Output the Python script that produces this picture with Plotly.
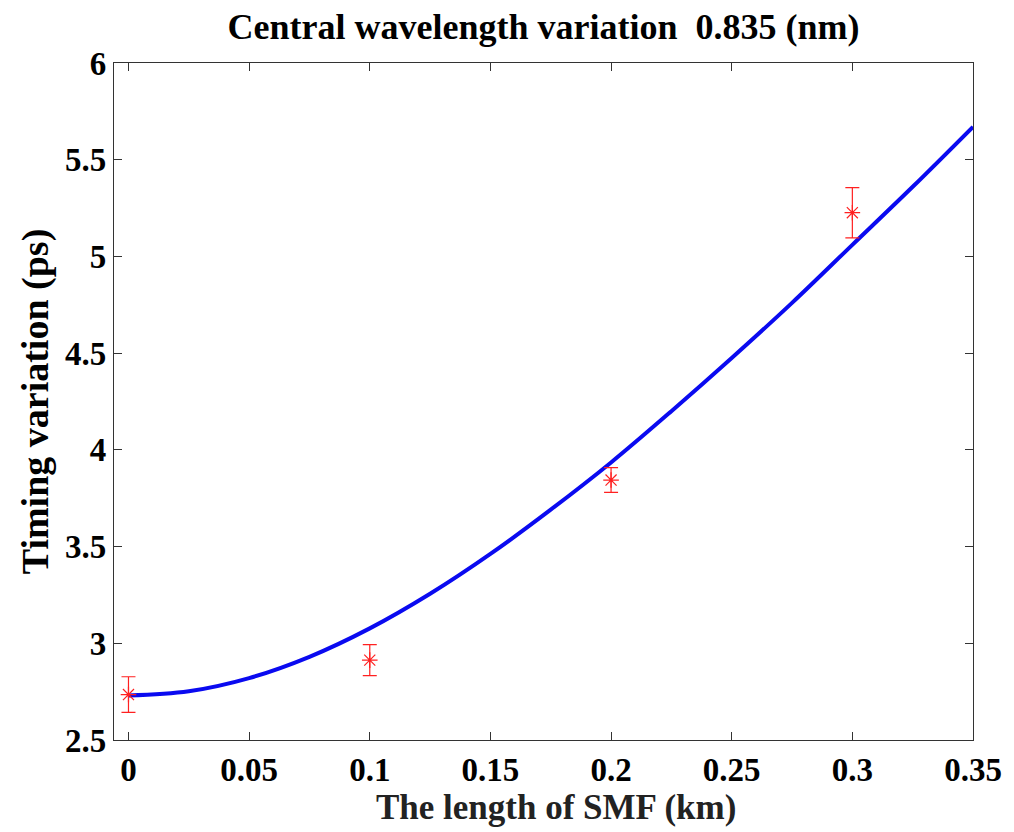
import plotly.graph_objects as go

# Fitted curve
curve_x = [0, 0.025, 0.05, 0.075, 0.1, 0.125, 0.15, 0.175, 0.2, 0.225, 0.25, 0.275, 0.3, 0.325, 0.35]
curve_y = [2.73, 2.752, 2.82, 2.93, 3.077, 3.256, 3.462, 3.691, 3.935, 4.20, 4.475, 4.76, 5.06, 5.36, 5.67]

# Measured points with error bars
meas_x = [0, 0.1, 0.2, 0.3]
meas_y = [2.735, 2.913, 3.844, 5.226]
meas_err = [0.092, 0.08, 0.064, 0.13]

xtick_vals = [0, 0.05, 0.1, 0.15, 0.2, 0.25, 0.3, 0.35]
xtick_text = ["0", "0.05", "0.1", "0.15", "0.2", "0.25", "0.3", "0.35"]
ytick_vals = [2.5, 3, 3.5, 4, 4.5, 5, 5.5, 6]
ytick_text = ["2.5", "3", "3.5", "4", "4.5", "5", "5.5", "6"]

FONT = "Liberation Serif"

fig = go.Figure()
fig.add_trace(go.Scatter(
    x=curve_x, y=curve_y, mode="lines",
    line=dict(color="#0a0af0", width=4, shape="spline"),
    showlegend=False, hoverinfo="skip"))
fig.add_trace(go.Scatter(
    x=meas_x, y=meas_y, mode="markers",
    marker=dict(symbol="asterisk-open", size=13, color="#ff2020",
                line=dict(color="#ff2020", width=1.2)),
    error_y=dict(type="data", array=meas_err, visible=True,
                 color="#ff2020", thickness=1.2, width=7),
    showlegend=False))

axis_common = dict(
    showgrid=False, zeroline=False, showline=True, linecolor="#333333",
    linewidth=1.2, mirror="ticks", ticks="inside", ticklen=8,
    tickcolor="#333333", tickwidth=1,
    tickfont=dict(family=FONT, size=33, color="black"),
)

fig.update_layout(
    width=1006, height=824,
    paper_bgcolor="white", plot_bgcolor="white",
    margin=dict(l=106, r=41, t=55, b=92),
    title=dict(text="<b>Central wavelength variation  0.835 (nm)</b>",
               font=dict(family=FONT, size=36, color="black"),
               xref="paper", x=0.5, xanchor="center",
               yref="container", y=0.978, yanchor="middle"),
    xaxis=dict(range=[-0.006, 0.35], tickvals=xtick_vals, ticktext=[f"<b>{t}</b>" for t in xtick_text],
               **axis_common),
    yaxis=dict(range=[2.5, 6], tickvals=ytick_vals, ticktext=[f"<b>{t}</b>" for t in ytick_text],
               title=dict(text="<b>Timing variation (ps)</b>",
                          font=dict(family=FONT, size=38, color="black"), standoff=4),
               **axis_common),
    annotations=[dict(
        text="<b>The length of SMF (km)</b>", xref="paper", yref="paper",
        x=0.5146, y=-0.1004, xanchor="center", yanchor="middle", showarrow=False,
        font=dict(family=FONT, size=35, color="#222222"))],
)

fig.write_html("out.html")
